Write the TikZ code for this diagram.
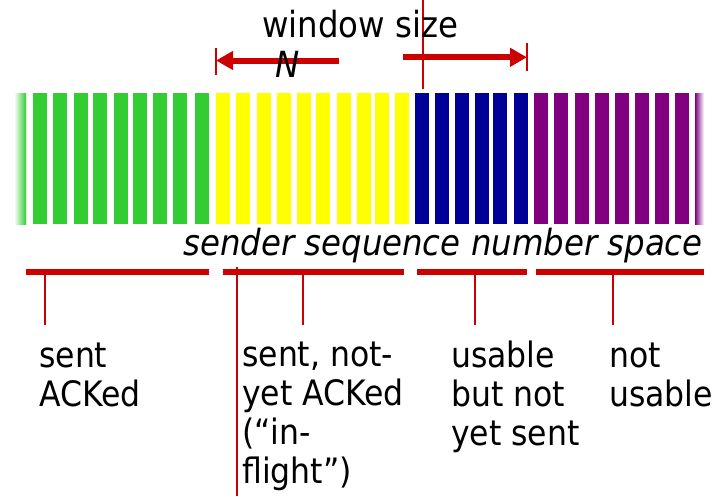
\documentclass[tikz,border=0pt]{standalone}
\usepackage{fontspec}
\setmainfont{DejaVu Sans Condensed}
\usetikzlibrary{arrows.meta}
\definecolor{ured}{HTML}{CC0000}
\definecolor{ugreen}{HTML}{33CC33}
\definecolor{uyellow}{HTML}{FFFF00}
\definecolor{ublue}{HTML}{000099}
\definecolor{upurple}{HTML}{800080}
\tikzset{
  seqbar/.style={fill=#1, draw=none},
  bracket/.style={draw=ured, line width=6pt},
  thinred/.style={draw=ured, line width=1.5pt},
  winarrow/.style={draw=ured, line width=6pt, -{Triangle[length=17pt,width=18pt]}},
  lbl/.style={inner sep=0pt, anchor=base west, align=left, font=\fontsize{36}{39}\selectfont},
  sublbl/.style={lbl, font=\fontsize{35}{39}\selectfont},
}
\begin{document}
\begin{tikzpicture}[x=1pt,y=-1pt]
\useasboundingbox (0,0) rectangle (714,496);
% bars
\foreach \x in {33,53,74,93,114,133,153,173,195}
  \fill[seqbar=ugreen] (\x,93) rectangle ++(14,131);
\foreach \x in {216,236,257,277,297,316,337,357,375,395}
  \fill[seqbar=uyellow] (\x,93) rectangle ++(14,131);
\foreach \x in {415,435,455,475,493,514}
  \fill[seqbar=ublue] (\x,93) rectangle ++(14,131);
\foreach \x in {534,554,575,595,615,635,655,675}
  \fill[seqbar=upurple] (\x,93) rectangle ++(14,131);
\shade[left color=white, right color=ugreen] (14,93) rectangle (26,224);
\shade[left color=upurple, right color=white] (695,93) rectangle (704,224);

% window arrows
\coordinate (lstart) at (339,60.5);
\coordinate (lend) at (216,60.5);
\coordinate (rstart) at (403,57.3);
\coordinate (rend) at (527,57.3);
\draw[winarrow] (lstart) -- (lend);
\draw[winarrow] (rstart) -- (rend);
\coordinate (lt1) at (216,48); \coordinate (lt2) at (216,75);
\coordinate (rt1) at (527,43); \coordinate (rt2) at (527,71);
\draw[thinred] (lt1) -- (lt2);
\draw[thinred] (rt1) -- (rt2);
\coordinate (base1) at (423,0); \coordinate (base2) at (423,89);
\draw[thinred] (base1) -- (base2);

\node[lbl] (ws) at (262,37) {window size};
\node[lbl, font=\fontsize{36}{39}\selectfont\itshape] (N) at (275,77) {N};
\node[lbl, font=\fontsize{36}{39}\selectfont\itshape] (space) at (183,255) {sender sequence number space};

% brackets
\coordinate (b1a) at (26,272);  \coordinate (b1b) at (209,272);
\coordinate (b2a) at (223,272); \coordinate (b2b) at (404,272);
\coordinate (b3a) at (417,272); \coordinate (b3b) at (527,272);
\coordinate (b4a) at (536,272); \coordinate (b4b) at (704,272);
\draw[bracket] (b1a) -- (b1b);
\draw[bracket] (b2a) -- (b2b);
\draw[bracket] (b3a) -- (b3b);
\draw[bracket] (b4a) -- (b4b);
\foreach \x/\n in {45/t1,303/t2,475/t3,613/t4}{
  \coordinate (\n a) at (\x,275); \coordinate (\n b) at (\x,325);
  \draw[thinred] (\n a) -- (\n b);
}
\coordinate (sa) at (237,267); \coordinate (sb) at (237,496);
\draw[thinred] (sa) -- (sb);

% labels (base anchor = baseline of last line)
\node[sublbl] (l1) at (39,406) {sent\\ACKed};
\node[sublbl] (l2) at (242,483) {sent, not-\\yet ACKed\\(“in-\\flight”)};
\node[sublbl] (l3) at (451,445) {usable\\but not\\yet sent};
\node[sublbl] (l4) at (609,406) {not\\usable};
\end{tikzpicture}
\end{document}
